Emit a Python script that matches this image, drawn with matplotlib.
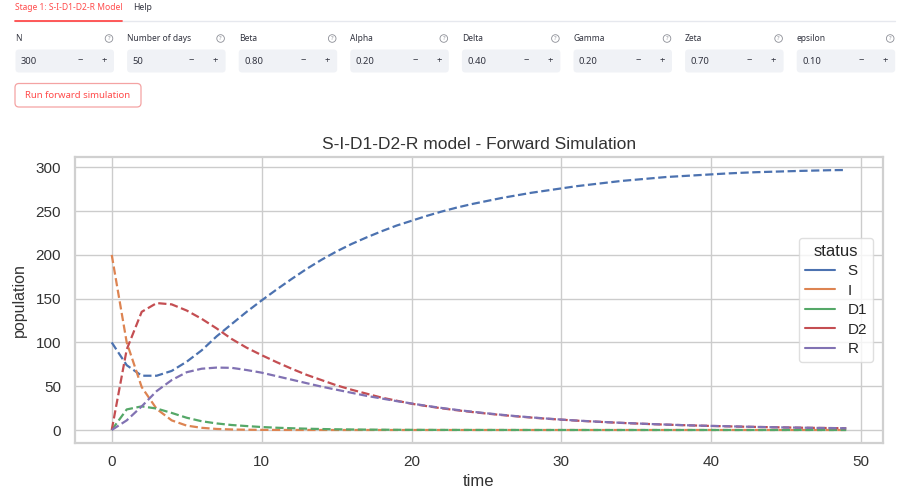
import matplotlib
matplotlib.use("Agg")
import matplotlib.pyplot as plt
import seaborn as sns
from matplotlib.lines import Line2D
from matplotlib.patches import FancyBboxPatch, Circle

# forward simulation output (one value per day)
days = list(range(50))

S = [100, 74, 62, 62, 67.5, 78, 91, 107, 121, 135,
     148, 160.5, 172.5, 184, 194.5, 204, 212.5, 220, 227, 233.5,
     239, 244.5, 249.5, 254, 258, 261.5, 265, 268, 271, 273.5,
     276, 278.5, 280.5, 282.5, 284.5, 286, 287.5, 289, 290, 291,
     292, 293, 293.8, 294.5, 295, 295.5, 296, 296.4, 296.8, 297]
I = [200, 100, 49, 24, 11, 5, 2.5, 1.2, 0.6, 0.3,
     0.15, 0.08, 0.04, 0.02, 0.01, 0, 0, 0, 0, 0,
     0, 0, 0, 0, 0, 0, 0, 0, 0, 0,
     0, 0, 0, 0, 0, 0, 0, 0, 0, 0,
     0, 0, 0, 0, 0, 0, 0, 0, 0, 0]
D1 = [0, 23.5, 27, 24.5, 19.5, 14, 10, 7.5, 5.7, 4.5,
      3.4, 2.6, 2.0, 1.5, 1.1, 0.8, 0.6, 0.45, 0.35, 0.25,
      0.2, 0.15, 0.1, 0.1, 0.08, 0.06, 0.05, 0.04, 0.03, 0.02,
      0.02, 0.01, 0.01, 0, 0, 0, 0, 0, 0, 0,
      0, 0, 0, 0, 0, 0, 0, 0, 0, 0]
D2 = [0, 92, 135, 145, 143.5, 136.5, 127, 116, 104, 94,
      85.5, 77.5, 70, 63, 57, 51, 46, 41.5, 37, 33.5,
      30, 27.3, 24.8, 22.6, 20.6, 18.8, 17.1, 15.6, 14.2, 12.9,
      11.8, 10.7, 9.8, 8.9, 8.1, 7.4, 6.7, 6.1, 5.6, 5.1,
      4.6, 4.2, 3.8, 3.5, 3.2, 2.9, 2.6, 2.4, 2.2, 2.0]
R = [0, 11, 27, 44.5, 57, 66, 70, 71.3, 71, 68.5,
     65.5, 61.5, 57.5, 53.5, 49.5, 46, 42.5, 39, 36, 33,
     30.3, 27.6, 25.2, 23, 21, 19.1, 17.4, 15.8, 14.4, 13.1,
     11.9, 10.8, 9.9, 9.0, 8.2, 7.5, 6.8, 6.2, 5.6, 5.1,
     4.7, 4.3, 3.9, 3.5, 3.2, 2.9, 2.7, 2.4, 2.2, 2.0]

statuses = ["S", "I", "D1", "D2", "R"]

# input widgets shown above the chart
param_names = ["N", "Number of days", "Beta", "Alpha", "Delta", "Gamma", "Zeta", "epsilon"]
param_values = ["300", "50", "0.80", "0.20", "0.40", "0.20", "0.70", "0.10"]

if __name__ == "__main__":

    sns.set_theme(style="whitegrid")
    plt.rcParams["font.family"] = ["Liberation Sans", "DejaVu Sans"]

    W, H = 904, 487
    fig = plt.figure(figsize=(W / 100, H / 100), dpi=100)
    fig.patch.set_facecolor("white")

    # overlay in pixel coordinates for the app widgets
    ui = fig.add_axes([0, 0, 1, 1], zorder=0)
    ui.set_xlim(0, W)
    ui.set_ylim(H, 0)
    ui.axis("off")

    red = "#ff4b4b"
    ui_font = ["Noto Sans", "DejaVu Sans"]
    ui.text(15, 8, "Stage 1: S-I-D1-D2-R Model", color=red, fontsize=6.1,
            family=ui_font, va="center", ha="left")
    ui.text(133, 8, "Help", color="#31333f", fontsize=6.2,
            family=ui_font, va="center", ha="left")
    ui.plot([15, 895], [20.5, 20.5], color="#e6e8ee", lw=1)
    ui.plot([15, 122], [20.5, 20.5], color=red, lw=1.3)

    for k, (name, val) in enumerate(zip(param_names, param_values)):
        x0 = 15.5 + k * 111.6
        ui.text(x0, 38.5, name, color="#31333f", fontsize=6.1,
                family=ui_font, va="center", ha="left")
        ui.add_patch(Circle((x0 + 93.5, 38.5), 3.8, fill=False,
                            ec="#8c8e96", lw=0.6))
        ui.text(x0 + 93.5, 38.8, "?", color="#8c8e96", fontsize=4.2,
                family=ui_font, va="center", ha="center")
        ui.add_patch(FancyBboxPatch((x0, 49.5), 98.5, 23,
                                    boxstyle="round,pad=0,rounding_size=3.5",
                                    fc="#f0f2f6", ec="none"))
        ui.text(x0 + 5.5, 61, val, color="#31333f", fontsize=6.8,
                family=ui_font, va="center", ha="left")
        ui.text(x0 + 64.5, 61, "\u2212", color="#31333f", fontsize=6.8,
                family=ui_font, va="center", ha="center")
        ui.text(x0 + 88.5, 61, "+", color="#31333f", fontsize=6.8,
                family=ui_font, va="center", ha="center", weight="bold")

    ui.add_patch(FancyBboxPatch((15, 83.5), 126, 23.5,
                                boxstyle="round,pad=0,rounding_size=4",
                                fc="white", ec="#f4a3a3", lw=0.9))
    ui.text(78, 95.5, "Run forward simulation", color=red, fontsize=6.9,
            family=ui_font, va="center", ha="center")

    # the chart itself
    ax = fig.add_axes([75 / W, 1 - 443 / H, 808 / W, 286 / H], zorder=1)
    series = [S, I, D1, D2, R]
    colors = sns.color_palette("deep")[:5]
    for vals, c in zip(series, colors):
        ax.plot(days, vals, linestyle="--", color=c, lw=1.6)

    ax.set_xticks([0, 10, 20, 30, 40, 50])
    ax.set_yticks([0, 50, 100, 150, 200, 250, 300])
    ax.tick_params(axis="both", labelsize=11, length=0, colors="#333333")
    ax.tick_params(axis="y", pad=10)
    ax.tick_params(axis="x", pad=9)
    ax.set_xlabel("time", fontsize=12, color="#333333", labelpad=3)
    ax.set_ylabel("population", fontsize=11.5, color="#333333", labelpad=6)
    ax.set_title("S-I-D1-D2-R model - Forward Simulation", fontsize=12.5,
                 color="#333333", pad=6)
    for sp in ax.spines.values():
        sp.set_color("#d0d0d0")
        sp.set_linewidth(1.6)

    handles = [Line2D([0], [0], color=c, lw=1.5) for c in colors]
    leg = ax.legend(handles, statuses, title="status", loc="center right",
                    bbox_to_anchor=(0.988, 0.5), borderaxespad=0,
                    fontsize=11, title_fontsize=12, labelspacing=0.35,
                    frameon=True)
    leg.get_frame().set_edgecolor("#d8d8d8")

    fig.savefig("out.png", dpi=100)
